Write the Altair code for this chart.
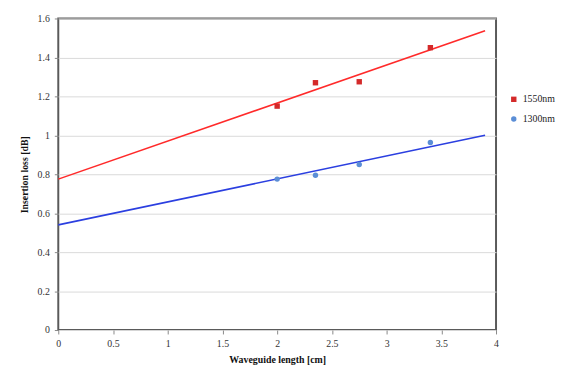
import altair as alt
import pandas as pd

series_names = ["1550nm", "1300nm"]
lengths = [2.0, 2.35, 2.75, 3.4]
loss_1550 = [1.15, 1.27, 1.275, 1.45]
loss_1300 = [0.775, 0.795, 0.85, 0.963]

trend_x = [0.0, 3.9]
trend_1550 = [0.775, 1.537]
trend_1300 = [0.54, 1.0]

x_ticks = [0, 0.5, 1, 1.5, 2, 2.5, 3, 3.5, 4]
y_ticks = [0, 0.2, 0.4, 0.6, 0.8, 1.0, 1.2, 1.4, 1.6]

pts = pd.DataFrame({
    "len": lengths * 2,
    "loss": loss_1550 + loss_1300,
    "series": [series_names[0]] * 4 + [series_names[1]] * 4,
})
trend = pd.DataFrame({
    "len": trend_x * 2,
    "loss": trend_1550 + trend_1300,
    "series": [series_names[0]] * 2 + [series_names[1]] * 2,
    "col": ["#ff2a2a"] * 2 + ["#2b3fe0"] * 2,
})

FONT = "Liberation Serif"

xenc = alt.X("len:Q", scale=alt.Scale(domain=[0, 4], nice=False),
             axis=alt.Axis(values=x_ticks, title="Waveguide length [cm]",
                           labelExpr="'' + datum.value", grid=False,
                           labelOverlap=False, labelFlush=False))
yenc = alt.Y("loss:Q", scale=alt.Scale(domain=[0, 1.6], nice=False),
             axis=alt.Axis(values=y_ticks, title="Insertion loss [dB]",
                           labelExpr="'' + datum.value", grid=True,
                           labelOverlap=False, labelFlush=False))

lines = alt.Chart(trend).mark_line(strokeWidth=1.6).encode(
    x=xenc, y=yenc, detail="series:N",
    color=alt.Color("col:N", scale=None),
)

leg = dict(title=None, orient="none", legendX=457, legendY=77, padding=0,
           symbolSize=30, labelFont=FONT, labelFontSize=10, labelOffset=4,
           labelColor="#222", rowPadding=10)

points = alt.Chart(pts).mark_point(filled=True, size=30, opacity=1).encode(
    x=xenc, y=yenc,
    color=alt.Color("series:N",
                    scale=alt.Scale(domain=series_names, range=["#d42a2a", "#5b8ed6"]),
                    legend=alt.Legend(**leg)),
    shape=alt.Shape("series:N",
                    scale=alt.Scale(domain=series_names, range=["square", "circle"]),
                    legend=alt.Legend(**leg)),
)

chart = alt.layer(lines, points).properties(
    width=444, height=316,
    padding={"left": 51, "top": 8, "right": 73, "bottom": 44},
    autosize=alt.AutoSizeParams(type="none"),
    background="white",
).configure_view(
    stroke="#5a5a5a", strokeWidth=2,
).configure_axis(
    labelFont=FONT, titleFont=FONT, labelFontSize=10, titleFontSize=10,
    labelColor="#333", titleColor="#111", titleFontWeight="bold",
    domain=False, tickColor="#888", tickSize=4, labelPadding=5,
    gridColor="#d9d9d9", gridWidth=1,
).configure_axisX(titlePadding=6).configure_axisY(titlePadding=8)

chart.save("out.html", embed_options={"renderer": "svg", "actions": False})
